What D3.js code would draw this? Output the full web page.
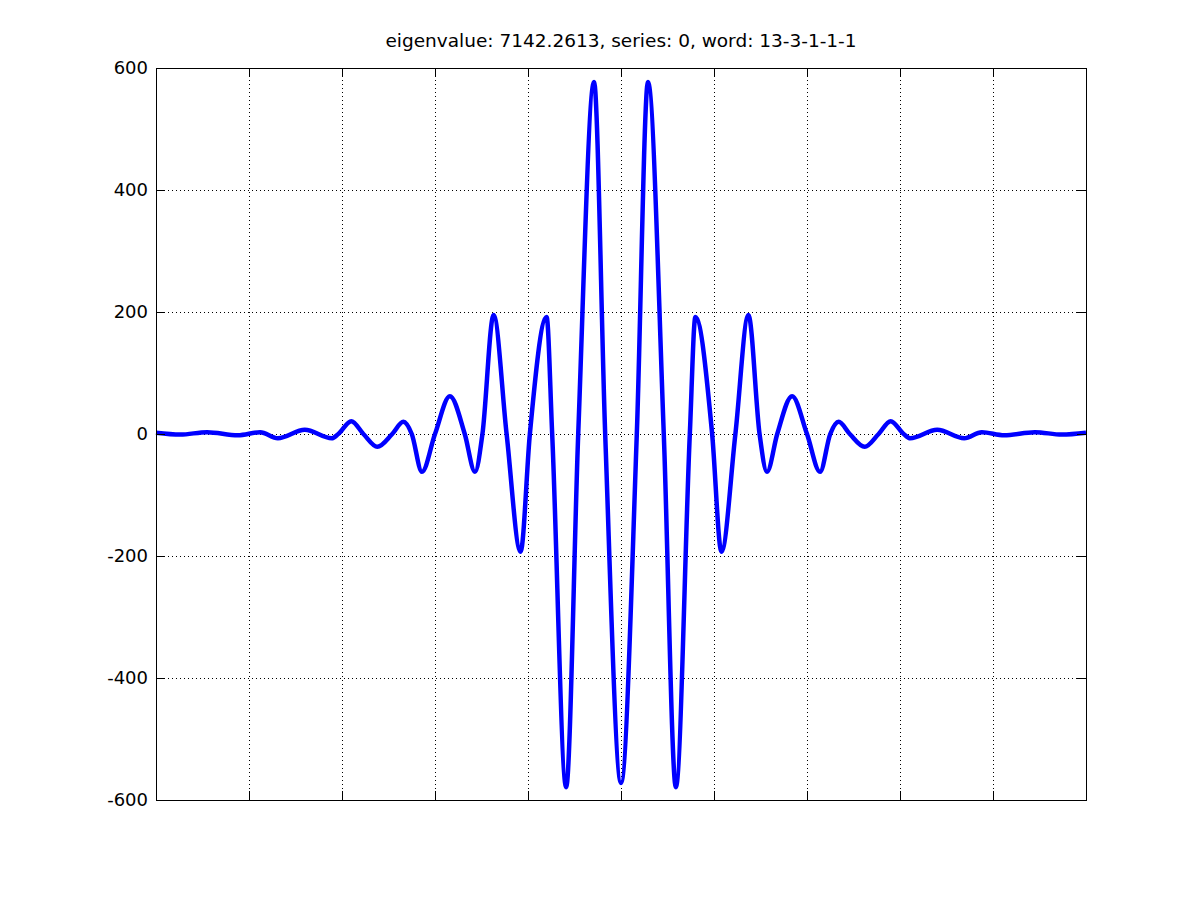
<!DOCTYPE html>
<html>
<head>
<meta charset="utf-8">
<script src="https://cdn.jsdelivr.net/npm/d3@7"></script>
<style>
  body { margin: 0; background: #fff; }
  svg { display: block; }
  text { font-family: "DejaVu Sans", "Liberation Sans", Arial, sans-serif; }
</style>
</head>
<body>
<svg id="chart" width="1200" height="900"></svg>
<script>
const titleText = "eigenvalue: 7142.2613, series: 0, word: 13-3-1-1-1";
const xs = [0.000, 0.026, 0.055, 0.088, 0.112, 0.131, 0.160, 0.189, 0.196, 0.210,
            0.223, 0.238, 0.254, 0.266, 0.275, 0.286, 0.300, 0.316, 0.332, 0.343,
            0.351, 0.363, 0.377, 0.392, 0.402, 0.420, 0.426, 0.441, 0.454, 0.471,
            0.483, 0.500, 0.517, 0.529, 0.546, 0.559, 0.574, 0.580, 0.598, 0.608,
            0.623, 0.637, 0.649, 0.657, 0.668, 0.684, 0.700, 0.714, 0.725, 0.734,
            0.746, 0.762, 0.777, 0.790, 0.804, 0.811, 0.840, 0.869, 0.888, 0.912,
            0.945, 0.974, 1.000];
const ys = [2, -1, 3, -2, 3, -7, 7, -7, 0, 21,
            0, -21, 0, 20, 0, -62, 0, 62, 0, -62,
            0, 195, 0, -193, 0, 192, 0, -579, 0, 577,
            0, -572, 0, 577, 0, -579, 0, 192, 0, -193,
            0, 195, 0, -62, 0, 62, 0, -62, 0, 20,
            0, -21, 0, 21, 0, -7, 7, -7, 3, -2,
            3, -1, 2];
const xTicks = [0, 0.1, 0.2, 0.3, 0.4, 0.5, 0.6, 0.7, 0.8, 0.9, 1.0];
const yTicks = [-600, -400, -200, 0, 200, 400, 600];

const svg = d3.select("#chart");
const pL = 156, pR = 1086, pT = 68, pB = 800;
const x = d3.scaleLinear().domain([0, 1]).range([pL, pR]);
const y = d3.scaleLinear().domain([-600, 600]).range([pB, pT]);

// grid
const grid = svg.append("g").attr("stroke", "#000").attr("stroke-width", 1)
  .attr("stroke-dasharray", "1,3").attr("shape-rendering", "crispEdges");
xTicks.forEach(t => grid.append("line")
  .attr("x1", Math.round(x(t)) + 0.5).attr("x2", Math.round(x(t)) + 0.5)
  .attr("y1", pT).attr("y2", pB));
yTicks.forEach(t => grid.append("line")
  .attr("y1", Math.round(y(t)) + 0.5).attr("y2", Math.round(y(t)) + 0.5)
  .attr("x1", pL).attr("x2", pR));

// data line
const data = xs.map((v, i) => [v, ys[i]]);
const line = d3.line().x(d => x(d[0])).y(d => y(d[1])).curve(d3.curveMonotoneX);
svg.append("path").datum(data).attr("d", line)
  .attr("fill", "none").attr("stroke", "#0000ff").attr("stroke-width", 4.5)
  .attr("stroke-linejoin", "round");

// axes (ticks inward on all four sides)
const tl = 9;
svg.append("g").attr("transform", `translate(0,${pB})`)
  .call(d3.axisBottom(x).tickValues(xTicks).tickSize(-tl).tickFormat(""))
  .call(g => g.select(".domain").remove());
svg.append("g").attr("transform", `translate(0,${pT})`)
  .call(d3.axisTop(x).tickValues(xTicks).tickSize(-tl).tickFormat(""))
  .call(g => g.select(".domain").remove());
svg.append("g").attr("transform", `translate(${pL},0)`)
  .call(d3.axisLeft(y).tickValues(yTicks).tickSize(-tl).tickPadding(8).tickFormat(d => String(d)))
  .call(g => g.select(".domain").remove())
  .call(g => g.selectAll("text").attr("font-size", 18).attr("fill", "#000")
    .attr("font-family", "'DejaVu Sans', 'Liberation Sans', sans-serif"));
svg.append("g").attr("transform", `translate(${pR},0)`)
  .call(d3.axisRight(y).tickValues(yTicks).tickSize(-tl).tickFormat(""))
  .call(g => g.select(".domain").remove());
svg.selectAll(".tick line").attr("stroke", "#000");

// box
svg.append("rect").attr("x", pL + 0.5).attr("y", pT + 0.5)
  .attr("width", pR - pL).attr("height", pB - pT)
  .attr("fill", "none").attr("stroke", "#000").attr("stroke-width", 1)
  .attr("shape-rendering", "crispEdges");

// title
svg.append("text").attr("x", (pL + pR) / 2).attr("y", 47)
  .attr("text-anchor", "middle").attr("font-size", 18.5).attr("fill", "#000")
  .text(titleText);
</script>
</body>
</html>
